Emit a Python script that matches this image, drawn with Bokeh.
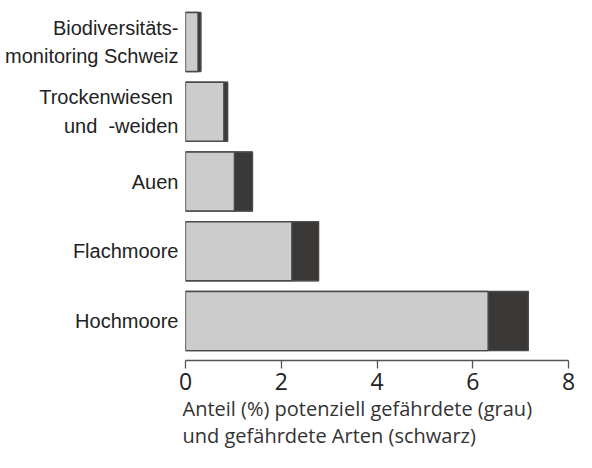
from bokeh.plotting import figure
from bokeh.models import ColumnDataSource, Range1d, FixedTicker, Title
from bokeh.embed import file_html
from bokeh.resources import INLINE

# Data (top to bottom as shown)
categories = ["Biodiversitäts-\nmonitoring Schweiz", "Trockenwiesen \nund\u00a0\u00a0-weiden",
              "Auen", "Flachmoore", "Hochmoore"]
gray_pct = [0.26, 0.80, 1.02, 2.22, 6.32]    # potenziell gefährdete (grau)
black_pct = [0.06, 0.08, 0.38, 0.56, 0.84]   # gefährdete (schwarz)
x_ticks = [0, 2, 4, 6, 8]
x_title = ["Anteil (%) potenziell gefährdete (grau)",
           "und gefährdete Arten (schwarz)"]

n = len(categories)
ypos = [n - 1 - i for i in range(n)]
total = [g + b for g, b in zip(gray_pct, black_pct)]
src = ColumnDataSource(dict(y=ypos, gray=gray_pct, total=total))

y0, y1 = -0.566, 4.595
p = figure(width=576, height=452, output_backend="svg", toolbar_location=None,
           x_range=Range1d(0, 8), y_range=Range1d(y0, y1),
           min_border_left=185, min_border_right=8, min_border_top=0,
           min_border_bottom=92)
p.background_fill_color = "white"
p.border_fill_color = "white"
p.outline_line_color = None
p.xgrid.visible = False
p.ygrid.visible = False

bh = 0.846
p.hbar(y="y", left="gray", right="total", height=bh, source=src,
       fill_color="#393837", line_color="#393837", line_width=1)
p.hbar(y="y", left=0, right="total", height=bh, source=src,
       fill_color=None, line_color="#4a4a4a", line_width=1.3)
p.hbar(y="y", left=0, right="gray", height=bh, source=src,
       fill_color="#cccccc", line_color="#4a4a4a", line_width=1.3)

xa = p.xaxis[0]
xa.ticker = FixedTicker(ticks=x_ticks)
xa.major_tick_in = 0
xa.major_tick_out = 8
xa.minor_tick_line_color = None
xa.axis_line_color = "#555555"
xa.major_tick_line_color = "#555555"
xa.axis_line_width = 1.3
xa.major_tick_line_width = 1.3
xa.major_label_text_font = "Open Sans"
xa.major_label_text_font_size = "23px"
xa.major_label_text_color = "#222222"
xa.major_label_standoff = 4

p.add_layout(Title(text="\n".join(x_title), align="left", offset=-3,
                   text_font="Open Sans", text_font_size="20px",
                   text_font_style="normal", text_color="#333333",
                   standoff=0, text_line_height=1.0), "below")

ya = p.yaxis[0]
ya.ticker = FixedTicker(ticks=ypos)
ya.major_label_overrides = {y: c for y, c in zip(ypos, categories)}
ya.axis_line_color = None
ya.major_tick_line_color = None
ya.minor_tick_line_color = None
ya.major_label_standoff = 1
ya.major_label_text_font = "Liberation Sans"
ya.major_label_text_font_size = "20px"
ya.major_label_text_color = "#222222"
ya.major_label_text_line_height = 1.3

open("out.html", "w").write(file_html(p, INLINE))
